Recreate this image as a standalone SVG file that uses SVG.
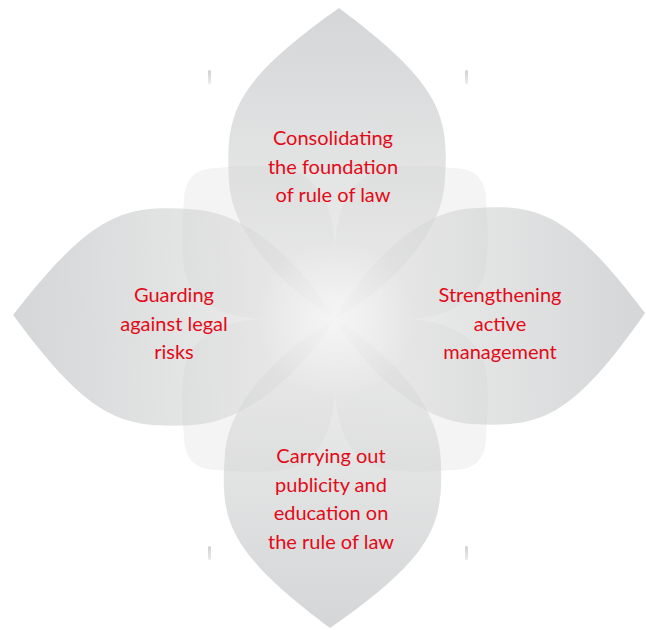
<svg xmlns="http://www.w3.org/2000/svg" width="646" height="630" viewBox="0 0 646 630">
  <defs>
    <linearGradient id="petalGrad" gradientUnits="userSpaceOnUse" x1="0" y1="-311" x2="0" y2="0">
      <stop offset="0" stop-color="#b2b4b6"/>
      <stop offset="0.5" stop-color="#cbcccd"/>
      <stop offset="1" stop-color="#e4e4e4"/>
    </linearGradient>
    <radialGradient id="glow" cx="335" cy="319" r="80" gradientUnits="userSpaceOnUse">
      <stop offset="0" stop-color="#ffffff" stop-opacity="0.5"/>
      <stop offset="1" stop-color="#ffffff" stop-opacity="0"/>
    </radialGradient>
    <linearGradient id="tickGrad" x1="0" y1="0" x2="0" y2="1">
      <stop offset="0" stop-color="#d0d0d0"/>
      <stop offset="1" stop-color="#ececec"/>
    </linearGradient>
    <path id="petal" d="M 0 0 C 35 -20 106 -75 108 -140 C 112 -205 103 -236 0 -311 C -103 -236 -112 -205 -108 -140 C -106 -75 -35 -20 0 0 Z"/>
    <path id="diag" d="M 0 0 L 0 -68 C 0 -100 -10 -135 -40 -148 C -60 -155 -95 -153 -118 -151 Q -151 -151 -151 -118 C -153 -95 -155 -60 -148 -40 C -135 -10 -100 0 -68 0 Z"/>
  </defs>
  <style>
    .petal { fill: url(#petalGrad); fill-opacity: 0.55; }
    .diag { fill: #ececec; fill-opacity: 0.6; }
    .label { font-family: Lato, "Open Sans", sans-serif; font-size: 20px; fill: #e30a17; text-anchor: middle; }
    .tick { fill: url(#tickGrad); }
  </style>

  <g id="background-shapes">
    <use href="#diag" class="diag" transform="translate(335,319)"/>
    <use href="#diag" class="diag" transform="translate(335,319) rotate(90)"/>
    <use href="#diag" class="diag" transform="translate(335,319) rotate(180)"/>
    <use href="#diag" class="diag" transform="translate(335,319) rotate(270)"/>
    <rect class="tick" x="208" y="70" width="3" height="14" rx="1.5"/>
    <rect class="tick" x="465" y="70" width="3" height="14" rx="1.5"/>
    <rect class="tick" x="208" y="546" width="3" height="14" rx="1.5"/>
    <rect class="tick" x="465" y="546" width="3" height="14" rx="1.5"/>
  </g>

  <g id="connectors"></g>

  <g id="node-top">
    <use href="#petal" class="petal" transform="translate(335,319) rotate(0.74)"/>
    <text class="label" x="333" y="145">Consolidating</text>
    <text class="label" x="333" y="173.5">the foundation</text>
    <text class="label" x="333" y="202">of rule of law</text>
  </g>

  <g id="node-left">
    <use href="#petal" class="petal" transform="translate(335,319) rotate(-89.3) scale(1,1.035)"/>
    <text class="label" x="174" y="302">Guarding</text>
    <text class="label" x="174" y="330.5">against legal</text>
    <text class="label" x="174" y="359">risks</text>
  </g>

  <g id="node-right">
    <use href="#petal" class="petal" transform="translate(335,319) rotate(88.9) scale(1,0.997)"/>
    <text class="label" x="500" y="302">Strengthening</text>
    <text class="label" x="500" y="330.5">active</text>
    <text class="label" x="500" y="359">management</text>
  </g>

  <g id="node-bottom">
    <use href="#petal" class="petal" transform="translate(335,319) rotate(180.9) scale(1,0.994)"/>
    <text class="label" x="331" y="463">Carrying out</text>
    <text class="label" x="331" y="491.5">publicity and</text>
    <text class="label" x="331" y="520">education on</text>
    <text class="label" x="331" y="548.5">the rule of law</text>
  </g>

  <g id="center-glow">
    <circle cx="335" cy="319" r="80" fill="url(#glow)"/>
  </g>
</svg>
